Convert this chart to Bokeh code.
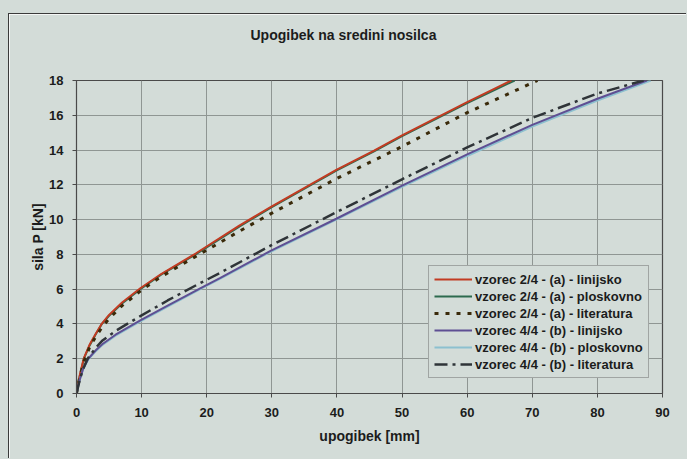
from bokeh.plotting import figure
from bokeh.models import Range1d, FixedTicker, Legend, LegendItem, Title
from bokeh.embed import file_html
from bokeh.resources import INLINE

# ---- data ----
title_text = "Upogibek na sredini nosilca"
x_label = "upogibek [mm]"
y_label = "sila P [kN]"
x_ticks = [0, 10, 20, 30, 40, 50, 60, 70, 80, 90]
y_ticks = [0, 2, 4, 6, 8, 10, 12, 14, 16, 18]

names = [
    "vzorec 2/4 - (a) - linijsko",
    "vzorec 2/4 - (a) - ploskovno",
    "vzorec 2/4 - (a) - literatura",
    "vzorec 4/4 - (b) - linijsko",
    "vzorec 4/4 - (b) - ploskovno",
    "vzorec 4/4 - (b) - literatura",
]

a_lin_x = [0, 0.5, 1.1, 2, 3, 3.9, 5, 7, 9.8, 13, 18.3, 25, 29.8, 39.9, 45.7, 50, 60, 66.8]
a_lin_y = [0, 1.05, 2.0, 2.8, 3.47, 4.02, 4.52, 5.23, 6.05, 6.87, 8.05, 9.65, 10.72, 12.86, 13.97, 14.85, 16.76, 18]

a_plo_x = [0, 0.5, 1.13, 2, 3, 3.9, 5, 7, 9.8, 13, 18.3, 25, 29.8, 39.9, 45.7, 50, 60, 67.3]
a_plo_y = [0, 1.0, 2.0, 2.75, 3.43, 4.0, 4.47, 5.18, 6.0, 6.83, 8.0, 9.6, 10.68, 12.82, 13.92, 14.8, 16.7, 18]

a_lit_x = [0, 0.5, 1.2, 2, 3, 4, 5, 7, 10, 13, 19, 25, 29.8, 39.9, 50, 60, 70.8]
a_lit_y = [0, 0.95, 1.9, 2.65, 3.3, 3.85, 4.3, 5.05, 5.95, 6.72, 8.03, 9.33, 10.33, 12.35, 14.2, 16.15, 18]

b_lin_x = [0, 0.5, 1, 1.8, 3, 4, 6, 9.8, 14, 19, 22.1, 29.8, 39.9, 50, 60, 70, 80, 87.6]
b_lin_y = [0, 0.8, 1.4, 2.0, 2.5, 2.85, 3.38, 4.2, 5.05, 6.05, 6.65, 8.2, 10.05, 11.95, 13.75, 15.45, 16.95, 18]

b_plo_x = [0, 0.5, 1, 1.8, 3, 4, 6, 9.8, 14, 19, 22.1, 29.8, 39.9, 50, 60, 70, 80, 88.2]
b_plo_y = [0, 0.78, 1.37, 1.95, 2.45, 2.8, 3.33, 4.15, 5.0, 6.0, 6.6, 8.15, 10.0, 11.88, 13.66, 15.35, 16.85, 18]

b_lit_x = [0, 0.5, 1, 1.7, 3, 4, 6, 9.8, 14, 19, 22.1, 29.8, 39.9, 50, 60, 70, 80, 87.1]
b_lit_y = [0, 0.8, 1.4, 2.0, 2.65, 3.05, 3.6, 4.45, 5.35, 6.35, 6.95, 8.5, 10.42, 12.32, 14.15, 15.85, 17.25, 18]

# ---- styling ----
BG = "#d3dcd8"
TXT = "#1c1c1c"
FONT = "Liberation Sans"

p = figure(width=678, height=445, output_backend="svg", toolbar_location=None,
           x_range=Range1d(0, 90), y_range=Range1d(0, 18),
           min_border_left=67, min_border_right=25, min_border_top=66, min_border_bottom=66)
p.styles = {
    "border-top": "1px solid #3a3a3a",
    "border-left": "1px solid #3a3a3a",
    "position": "relative",
    "top": "13px",
    "left": "8px",
    "box-shadow": "0 0 0 40px " + BG,
}
p.background_fill_color = BG
p.border_fill_color = BG
p.outline_line_color = "#4a4a4a"
p.outline_line_width = 1.2

# title: blank extra lines keep the text well above the frame
p.title = Title(text=title_text + "\n \n ", align="left", offset=174, vertical_align="top",
                standoff=8, text_font=FONT, text_font_style="bold",
                text_font_size="14px", text_color=TXT)

p.xaxis.ticker = FixedTicker(ticks=x_ticks)
p.yaxis.ticker = FixedTicker(ticks=y_ticks)
p.xgrid.ticker = FixedTicker(ticks=x_ticks)
p.ygrid.ticker = FixedTicker(ticks=y_ticks)
for g in (p.xgrid[0], p.ygrid[0]):
    g.grid_line_color = "#8f9693"
    g.grid_line_width = 1

p.xaxis.axis_label = x_label
p.yaxis.axis_label = y_label
for ax in (p.xaxis[0], p.yaxis[0]):
    ax.axis_line_color = "#4a4a4a"
    ax.major_tick_line_color = "#4a4a4a"
    ax.major_tick_out = 4
    ax.major_tick_in = 0
    ax.minor_tick_line_color = None
    ax.major_label_text_font = FONT
    ax.major_label_text_font_style = "bold"
    ax.major_label_text_font_size = "13px"
    ax.major_label_text_color = TXT
    ax.axis_label_text_font = FONT
    ax.axis_label_text_font_style = "bold"
    ax.axis_label_text_font_size = "14px"
    ax.axis_label_text_color = TXT
p.xaxis.major_label_standoff = 10
p.xaxis.axis_label_standoff = 8
p.yaxis.major_label_standoff = 9
p.yaxis.axis_label_standoff = 0

r_aplo = p.line(a_plo_x, a_plo_y, line_color="#2c6a4e", line_width=2)
r_alin = p.line(a_lin_x, a_lin_y, line_color="#c23b22", line_width=2)
r_alit = p.line(a_lit_x, a_lit_y, line_color="#3a2a0a", line_width=3, line_dash="4 7")
r_bplo = p.line(b_plo_x, b_plo_y, line_color="#8cc0cf", line_width=2)
r_blin = p.line(b_lin_x, b_lin_y, line_color="#5e4f93", line_width=2)
r_blit = p.line(b_lit_x, b_lit_y, line_color="#2f3438", line_width=2.5, line_dash="13 5 3 5")

legend = Legend(items=[
    LegendItem(label=names[0], renderers=[r_alin]),
    LegendItem(label=names[1], renderers=[r_aplo]),
    LegendItem(label=names[2], renderers=[r_alit]),
    LegendItem(label=names[3], renderers=[r_blin]),
    LegendItem(label=names[4], renderers=[r_bplo]),
    LegendItem(label=names[5], renderers=[r_blit]),
], location=(352, 15))
legend.margin = 0
legend.padding = 5
legend.spacing = 1
legend.glyph_width = 38
legend.glyph_height = 16
legend.label_height = 16
legend.label_standoff = 3
legend.label_text_font = FONT
legend.label_text_font_style = "bold"
legend.label_text_font_size = "13px"
legend.label_text_color = TXT
legend.border_line_color = "#6e6e6e"
legend.border_line_width = 1
legend.background_fill_color = BG
legend.background_fill_alpha = 1
p.add_layout(legend)

open("out.html", "w").write(file_html(p, INLINE))
